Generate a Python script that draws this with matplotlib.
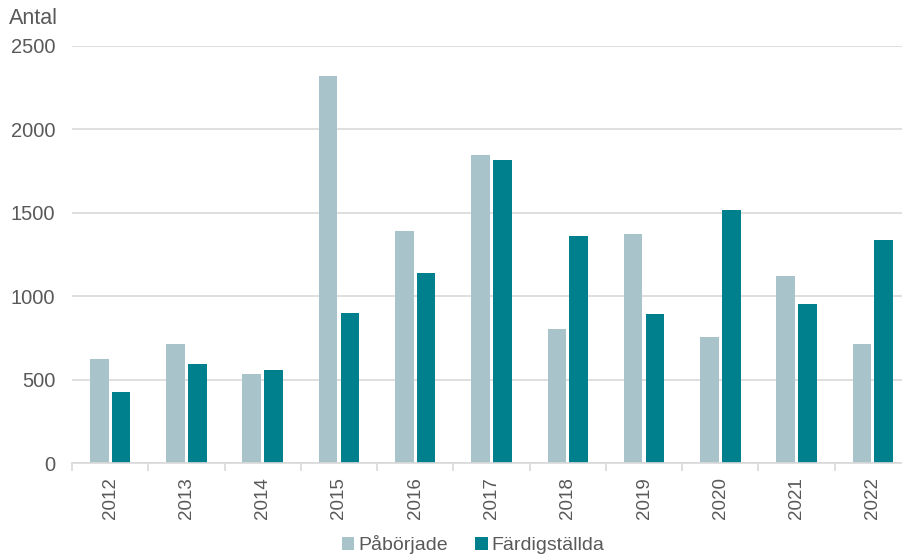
import matplotlib
matplotlib.use("Agg")
import matplotlib.pyplot as plt
import numpy as np

years = ["2012", "2013", "2014", "2015", "2016", "2017", "2018", "2019", "2020", "2021", "2022"]
paborjade = [626, 712, 536, 2323, 1392, 1846, 802, 1376, 756, 1125, 716]
fardigstallda = [428, 594, 558, 899, 1143, 1819, 1364, 897, 1517, 957, 1340]

light = "#A8C4CA"
teal = "#00808C"
text_color = "#595959"

plt.rcParams["font.family"] = ["Liberation Sans", "DejaVu Sans"]

fig = plt.figure(figsize=(9.03, 5.56), dpi=100)
W, H = 903, 556
ax = fig.add_axes([72 / W, 1 - 463.3 / H, (911 - 72) / W, (463.3 - 46) / H])

x = np.arange(len(years))
w = 0.245
off = 0.143
ax.bar(x - off, paborjade, width=w, color=light, label="Påbörjade", zorder=2)
ax.bar(x + off, fardigstallda, width=w, color=teal, label="Färdigställda", zorder=2)

ax.set_xlim(-0.5, len(years) - 0.5)
ax.set_ylim(0, 2500)
ax.set_yticks(range(0, 2501, 500))
ax.yaxis.grid(True, color="#D9D9D9", linewidth=1.2, zorder=0)
ax.set_axisbelow(True)

for s in ["top", "right", "left"]:
    ax.spines[s].set_visible(False)
ax.spines["bottom"].set_color("#D9D9D9")
ax.spines["bottom"].set_linewidth(1.2)

ax.set_xticks(x)
ax.set_xticklabels(years, rotation=90, fontsize=13.5, color=text_color)
ax.tick_params(axis="x", length=0, pad=10)
ax.set_xticks(np.arange(len(years) + 1) - 0.5, minor=True)
ax.tick_params(axis="x", which="minor", length=6, color="#D9D9D9", width=1.2)
ax.tick_params(axis="y", length=0, labelsize=14.5, labelcolor=text_color, pad=12)

fig.text(9 / W, 1 - 19 / H, "Antal", fontsize=15.5, color=text_color, va="center", ha="left")

leg = fig.legend(loc="center", bbox_to_anchor=(473 / W, 1 - 545 / H), ncol=2, frameon=False,
                 fontsize=14, handlelength=0.65, handleheight=0.65, handletextpad=0.2,
                 columnspacing=1.4)
for t in leg.get_texts():
    t.set_color(text_color)

fig.savefig("out.png", dpi=100)
